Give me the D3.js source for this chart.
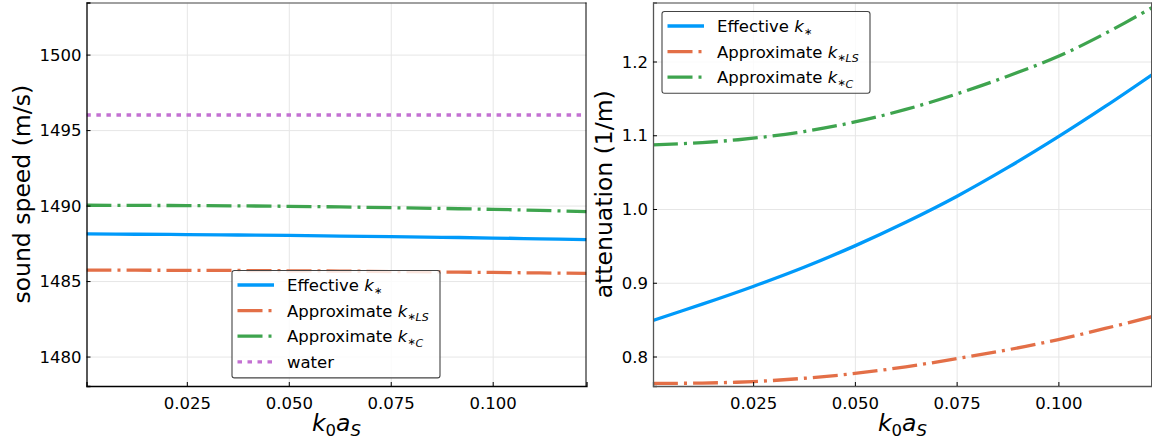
<!DOCTYPE html>
<html>
<head>
<meta charset="utf-8">
<script src="https://cdn.jsdelivr.net/npm/d3@7"></script>
<style>
  body { margin: 0; background: #fff; }
  text { font-family: "DejaVu Sans", sans-serif; fill: #000; }
</style>
</head>
<body>
<div class="canvas"></div>
<script>
// k0 aS values (shared by both panels)
const k0aS = [0.0004, 0.0125, 0.025, 0.0375, 0.05, 0.0625, 0.075, 0.0875, 0.1, 0.1115, 0.123];

// sound speed (m/s)
const speedEffective = [1488.12, 1488.10, 1488.08, 1488.05, 1488.02, 1487.98, 1487.94, 1487.90, 1487.85, 1487.80, 1487.74];
const speedLS = [1485.73, 1485.72, 1485.71, 1485.70, 1485.68, 1485.66, 1485.63, 1485.60, 1485.57, 1485.54, 1485.51];
const speedC = [1490.02, 1490.01, 1490.00, 1489.98, 1489.95, 1489.91, 1489.86, 1489.81, 1489.75, 1489.68, 1489.60];
const speedWater = [1496, 1496, 1496, 1496, 1496, 1496, 1496, 1496, 1496, 1496, 1496];

// attenuation (1/m)
const attEffective = [0.849, 0.871, 0.895, 0.921, 0.950, 0.982, 1.017, 1.056, 1.098, 1.139, 1.182];
const attLS = [0.7635, 0.764, 0.766, 0.7705, 0.777, 0.786, 0.797, 0.809, 0.823, 0.838, 0.854];
const attC = [1.087, 1.090, 1.096, 1.105, 1.118, 1.135, 1.156, 1.180, 1.207, 1.238, 1.273];

// ticks
const xTicks = [0.025, 0.05, 0.075, 0.1];
const speedTicks = [1480, 1485, 1490, 1495, 1500];
const attTicks = [0.8, 0.9, 1.0, 1.1, 1.2];

const width = 1152, height = 445;
const dashDot = '25,6,3,6';

const svg = d3.select('.canvas')
    .append('svg')
    .attr('width', width)
    .attr('height', height);

// label with tspans: parts = [text, italic, sub, backUp, size]
const richText = (sel, parts, size, subSize) => {
    parts.forEach(p => {
        const t = sel.append('tspan').text(p[0]);
        if (p[1]) t.attr('font-style', 'italic');
        if (p[2]) t.attr('font-size', p[4] || subSize).attr('dy', p[2]);
        else if (p[3]) t.attr('dy', p[3]);
    });
};

const legendNames = {
    eff: [['Effective '], ['k', true], ['∗', false, 3, 0, 10]],
    ls: [['Approximate '], ['k', true], ['∗', false, 3, 0, 10], ['LS', true, 1.5]],
    c: [['Approximate '], ['k', true], ['∗', false, 3, 0, 10], ['C', true, 1.5]],
    water: [['water']]
};

const drawPanel = (cfg) => {
    const x = d3.scaleLinear().domain(cfg.xDomain).range([cfg.left, cfg.right]);
    const y = d3.scaleLinear().domain(cfg.yDomain).range([cfg.bottom, cfg.top]);
    const w = cfg.right - cfg.left, h = cfg.bottom - cfg.top;

    const g = svg.append('g');

    // grid
    g.append('g')
        .attr('transform', `translate(0,${cfg.bottom})`)
        .call(d3.axisBottom(x).tickValues(xTicks).tickSize(-h).tickFormat(''))
        .call(a => a.select('.domain').remove())
        .call(a => a.selectAll('line').attr('stroke', '#e6e6e6'));
    g.append('g')
        .attr('transform', `translate(${cfg.left},0)`)
        .call(d3.axisLeft(y).tickValues(cfg.yTicks).tickSize(-w).tickFormat(''))
        .call(a => a.select('.domain').remove())
        .call(a => a.selectAll('line').attr('stroke', '#e6e6e6'));

    // lines
    const clipId = 'clip' + cfg.id;
    svg.append('clipPath').attr('id', clipId)
        .append('rect').attr('x', cfg.left).attr('y', cfg.top).attr('width', w).attr('height', h);

    cfg.series.forEach(s => {
        const line = d3.line()
            .x((d, i) => x(k0aS[i]))
            .y(d => y(d))
            .curve(d3.curveCatmullRom.alpha(0.5));
        g.append('path')
            .datum(s.values)
            .attr('clip-path', `url(#${clipId})`)
            .attr('fill', 'none')
            .attr('stroke', s.color)
            .attr('stroke-width', 3.3)
            .attr('stroke-dasharray', s.dash)
            .attr('d', line);
    });

    // frame
    g.append('line').attr('x1', cfg.left).attr('x2', cfg.right).attr('y1', cfg.top + 0.5).attr('y2', cfg.top + 0.5)
        .attr('stroke', '#808080').attr('stroke-width', 1.5);
    g.append('line').attr('x1', cfg.right - 0.5).attr('x2', cfg.right - 0.5).attr('y1', cfg.top).attr('y2', cfg.bottom)
        .attr('stroke', cfg.frameColor);

    // axes with inward ticks
    const xAxisG = g.append('g')
        .attr('transform', `translate(0,${cfg.bottom})`)
        .call(d3.axisBottom(x).tickValues(xTicks).tickSize(-4).tickPadding(11).tickFormat(d3.format('.3f')));
    const yAxisG = g.append('g')
        .attr('transform', `translate(${cfg.left},0)`)
        .call(d3.axisLeft(y).tickValues(cfg.yTicks).tickSize(-4).tickPadding(5).tickFormat(cfg.yFormat));
    [xAxisG, yAxisG].forEach(a => {
        a.select('.domain').attr('stroke', cfg.frameColor).attr('stroke-width', 1.3);
        a.selectAll('.tick line').attr('stroke', '#000');
        a.selectAll('text').attr('font-size', 16.5).attr('font-family', 'DejaVu Sans');
    });
    yAxisG.selectAll('text').attr('dy', '0.34em');
    xAxisG.selectAll('text').attr('dy', '0.71em');

    // axis labels
    const xl = g.append('text')
        .attr('x', (cfg.left + cfg.right) / 2)
        .attr('y', 431)
        .attr('text-anchor', 'middle')
        .attr('font-size', 23.5);
    richText(xl, [['k', true], ['0', false, 5], ['a', true, false, -5], ['S', true, 5]], 23.5, 16.5);

    g.append('text')
        .attr('transform', `translate(${cfg.yLabelX},${(cfg.top + cfg.bottom) / 2}) rotate(-90)`)
        .attr('text-anchor', 'middle')
        .attr('font-size', 23.5)
        .text(cfg.yLabel);

    // legend
    const lg = g.append('g').attr('transform', `translate(${cfg.legend.x},${cfg.legend.y})`);
    lg.append('rect')
        .attr('x', 0.5).attr('y', 0.5)
        .attr('width', 208).attr('height', cfg.series.length * 25.6 + 5)
        .attr('rx', 2.5)
        .attr('fill', '#fff').attr('fill-opacity', 0.82)
        .attr('stroke', '#444').attr('stroke-width', 1.1);
    cfg.series.forEach((s, i) => {
        const cy = 15 + i * 25.6;
        lg.append('line')
            .attr('x1', 6).attr('x2', 42.5).attr('y1', cy).attr('y2', cy)
            .attr('stroke', s.color).attr('stroke-width', 3.3)
            .attr('stroke-dasharray', s.legendDash);
        const t = lg.append('text')
            .attr('x', 55.5).attr('y', cy + 6)
            .attr('font-size', 16.5);
        richText(t, legendNames[s.key], 16.5, 11);
    });
};

const xExtent = d3.extent(k0aS);

drawPanel({
    id: 'L', left: 86.5, right: 586.5, top: 2.5, bottom: 386,
    xDomain: xExtent, yDomain: [1478.05, 1503.45],
    yTicks: speedTicks, yFormat: d3.format('d'),
    yLabel: 'sound speed (m/s)', yLabelX: 29.5,
    frameColor: '#000',
    legend: { x: 231.5, y: 270 },
    series: [
        { key: 'eff', values: speedEffective, color: '#009AFA', dash: null, legendDash: null },
        { key: 'ls', values: speedLS, color: '#E36F47', dash: dashDot, legendDash: dashDot },
        { key: 'c', values: speedC, color: '#3EA44E', dash: dashDot, legendDash: dashDot },
        { key: 'water', values: speedWater, color: '#C371D2', dash: '4.5,5.5', legendDash: '4.5,5.5' }
    ]
});

drawPanel({
    id: 'R', left: 653, right: 1152, top: 2.5, bottom: 386,
    xDomain: xExtent, yDomain: [0.760, 1.280],
    yTicks: attTicks, yFormat: d3.format('.1f'),
    yLabel: 'attenuation (1/m)', yLabelX: 612,
    frameColor: '#555',
    legend: { x: 661.5, y: 11 },
    series: [
        { key: 'eff', values: attEffective, color: '#009AFA', dash: null, legendDash: null },
        { key: 'ls', values: attLS, color: '#E36F47', dash: dashDot, legendDash: dashDot },
        { key: 'c', values: attC, color: '#3EA44E', dash: dashDot, legendDash: dashDot }
    ]
});
</script>
</body>
</html>
